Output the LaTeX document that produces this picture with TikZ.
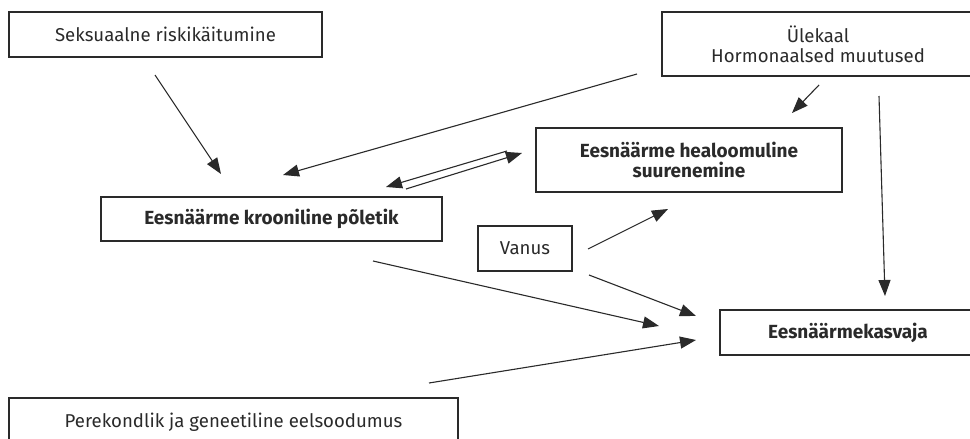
\documentclass[tikz,border=0pt]{standalone}
\usepackage{fontspec}
\setmainfont{Fira Sans}
\usetikzlibrary{arrows.meta}
\definecolor{ink}{HTML}{2A2A2A}
\tikzset{
  box/.style={draw=ink, line width=1.1pt, inner sep=0pt, align=center, text=ink,
    font=\fontsize{18.6}{20}\selectfont},
  boldbox/.style={box, font=\fontsize{19}{20}\selectfont\bfseries},
  arr/.style={draw=ink, line width=1.1pt, -{Triangle[length=16pt,width=12pt]}}
}
\begin{document}
\begin{tikzpicture}[x=1pt,y=-1pt]
\useasboundingbox (0,0) rectangle (970,439);
\clip (0,0) rectangle (970,439);
\fill[white] (0,0) rectangle (970,439);
\node[box, minimum width=313pt, minimum height=45pt] (sex) at (165.5,34.5) {Seksuaalne riskikäitumine};
\node[box, minimum width=312pt, minimum height=64pt] (hor) at (818,44) {Ülekaal\\Hormonaalsed muutused};
\node[boldbox, minimum width=306pt, minimum height=64pt] (bph) at (689,160) {Eesnäärme healoomuline\\suurenemine};
\node[boldbox, minimum width=341pt, minimum height=44pt] (pro) at (271.5,219) {Eesnäärme krooniline põletik};
\node[box, minimum width=94pt, minimum height=45pt] (age) at (525,248.5) {Vanus};
\node[boldbox, minimum width=256pt, minimum height=45pt] (can) at (848,332.5) {Eesnäärmekasvaja};
\node[box, minimum width=449pt, minimum height=48pt] (fam) at (233.5,422) {Perekondlik ja geneetiline eelsoodumus};
% connector ends
\coordinate (a1s) at (155,75);  \coordinate (a1e) at (221,174);
\coordinate (a2s) at (637,74);  \coordinate (a2e) at (283,175);
\coordinate (a3s) at (507,151); \coordinate (a3e) at (386,187);
\coordinate (a4s) at (406,189); \coordinate (a4e) at (522,153);
\coordinate (a5s) at (819,85);  \coordinate (a5e) at (792,113);
\coordinate (a6s) at (879,96);  \coordinate (a6e) at (885,296);
\coordinate (a7s) at (588,249); \coordinate (a7e) at (668,209);
\coordinate (a8s) at (589,275); \coordinate (a8e) at (696,316);
\coordinate (a9s) at (373,261); \coordinate (a9e) at (659,326);
\coordinate (a10s) at (429,383); \coordinate (a10e) at (696,340);
\draw[arr] (a1s) -- (a1e);
\draw[arr] (a2s) -- (a2e);
\draw[arr] (a3s) -- (a3e);
\draw[arr] (a4s) -- (a4e);
\draw[arr] (a5s) -- (a5e);
\draw[arr] (a6s) -- (a6e);
\draw[arr] (a7s) -- (a7e);
\draw[arr] (a8s) -- (a8e);
\draw[arr] (a9s) -- (a9e);
\draw[arr] (a10s) -- (a10e);
\end{tikzpicture}
\end{document}
